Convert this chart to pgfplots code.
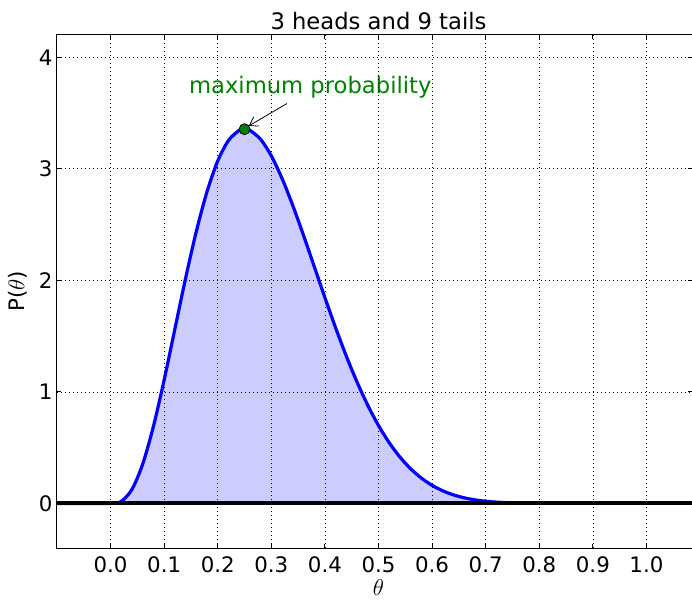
\documentclass[border=0pt]{standalone}
\usepackage{fontspec}
\setmainfont{DejaVu Sans}
\usepackage{pgfplots}
\pgfplotsset{compat=1.18}
\usetikzlibrary{arrows.meta}
\definecolor{mplgreen}{rgb}{0,0.5,0}
\definecolor{fillblue}{rgb}{0.8,0.8,1}
\begin{document}
\begin{tikzpicture}
\begin{axis}[
  name=ax,
  scale only axis,
  width=476.25pt, height=384.75pt,
  xmin=-0.1, xmax=1.085,
  ymin=-0.4, ymax=4.2,
  xtick={0,0.1,0.2,0.3,0.4,0.5,0.6,0.7,0.8,0.9,1.0},
  xticklabels={0.0,0.1,0.2,0.3,0.4,0.5,0.6,0.7,0.8,0.9,1.0},
  ytick={0,1,2,3,4},
  yticklabels={0,1,2,3,4},
  ticklabel style={font=\fontsize{16}{19}\selectfont},
  xticklabel style={anchor=base, inner sep=0pt, yshift=-18pt},
  yticklabel style={anchor=east, inner sep=0pt, xshift=-3.2pt},
  major tick length=3pt,
  grid=major,
  grid style={black, line width=0.5pt, dash pattern=on 0.75pt off 2.25pt},
  axis line style={black, line width=0.75pt},
  tick style={black, line width=0.75pt},
  axis on top,
]
% filled area under the density
\addplot[fill=fillblue, draw=none, smooth, tension=0.5] coordinates {
(0,0) (0.02,0.0191) (0.04,0.1268) (0.06,0.3540) (0.08,0.6914) (0.10,1.1080)
(0.12,1.5641) (0.14,2.0195) (0.16,2.4392) (0.18,2.7958) (0.20,3.0709)
(0.22,3.2544) (0.24,3.3445) (0.25,3.3554) (0.26,3.3448) (0.28,3.2646)
(0.30,3.1161) (0.32,2.9134) (0.34,2.6712) (0.36,2.4037) (0.38,2.1246)
(0.40,1.8447) (0.42,1.5739) (0.44,1.3195) (0.46,1.0869) (0.48,0.8793)
(0.50,0.6982) (0.52,0.5439) (0.54,0.4153) (0.56,0.3105) (0.58,0.2269)
(0.60,0.1619) (0.62,0.1126) (0.64,0.0761) (0.66,0.0499) (0.68,0.0316)
(0.70,0.0193) (0.72,0.0113) (0.74,0.0063) (0.76,0.0033) (0.78,0.0016)
(0.80,0.0008) (0.85,0.0001) (0.90,0) (1.0,0)
} \closedcycle;
% density curve
\addplot[blue, line width=2.4pt, line join=round, smooth, tension=0.5] coordinates {
(-0.1,0) (0,0) (0.02,0.0191) (0.04,0.1268) (0.06,0.3540) (0.08,0.6914) (0.10,1.1080)
(0.12,1.5641) (0.14,2.0195) (0.16,2.4392) (0.18,2.7958) (0.20,3.0709)
(0.22,3.2544) (0.24,3.3445) (0.25,3.3554) (0.26,3.3448) (0.28,3.2646)
(0.30,3.1161) (0.32,2.9134) (0.34,2.6712) (0.36,2.4037) (0.38,2.1246)
(0.40,1.8447) (0.42,1.5739) (0.44,1.3195) (0.46,1.0869) (0.48,0.8793)
(0.50,0.6982) (0.52,0.5439) (0.54,0.4153) (0.56,0.3105) (0.58,0.2269)
(0.60,0.1619) (0.62,0.1126) (0.64,0.0761) (0.66,0.0499) (0.68,0.0316)
(0.70,0.0193) (0.72,0.0113) (0.74,0.0063) (0.76,0.0033) (0.78,0.0016)
(0.80,0.0008) (0.85,0.0001) (0.90,0) (1.0,0) (1.085,0)
};
% zero line
\addplot[black, line width=3pt] coordinates {(-0.1,0) (1.085,0)};
% maximum marker
\addplot[only marks, mark=*, mark size=4.1pt, mark options={fill=mplgreen, draw=black, line width=0.6pt}] coordinates {(0.25,3.3554)};
% annotation
\draw[-{Straight Barb[length=6pt,width=8pt]}, black, line width=0.6pt] (axis cs:0.329,3.585) -- (axis cs:0.258,3.385);
\node[anchor=base west, inner sep=0pt, text=mplgreen, font=\fontsize{17}{20}\selectfont] at (axis cs:0.146,3.675) {maximum probability};
\end{axis}
% title and labels
\node[anchor=base, inner sep=0pt, font=\fontsize{17}{20}\selectfont] at ([xshift=241.1pt, yshift=3.75pt]ax.north west) {3 heads and 9 tails};
\node[anchor=base, inner sep=0pt, font=\fontsize{16}{19}\selectfont] at ([xshift=241.1pt, yshift=-35.8pt]ax.south west) {$\theta$};
\node[rotate=90, inner sep=0pt, font=\fontsize{16}{19}\selectfont] at ([xshift=-29.5pt]ax.west) {P($\theta$)};
\pgfresetboundingbox
\path ([xshift=-42.75pt, yshift=-39pt]ax.south west) rectangle ([yshift=26.25pt]ax.north east);
\end{tikzpicture}
\end{document}
